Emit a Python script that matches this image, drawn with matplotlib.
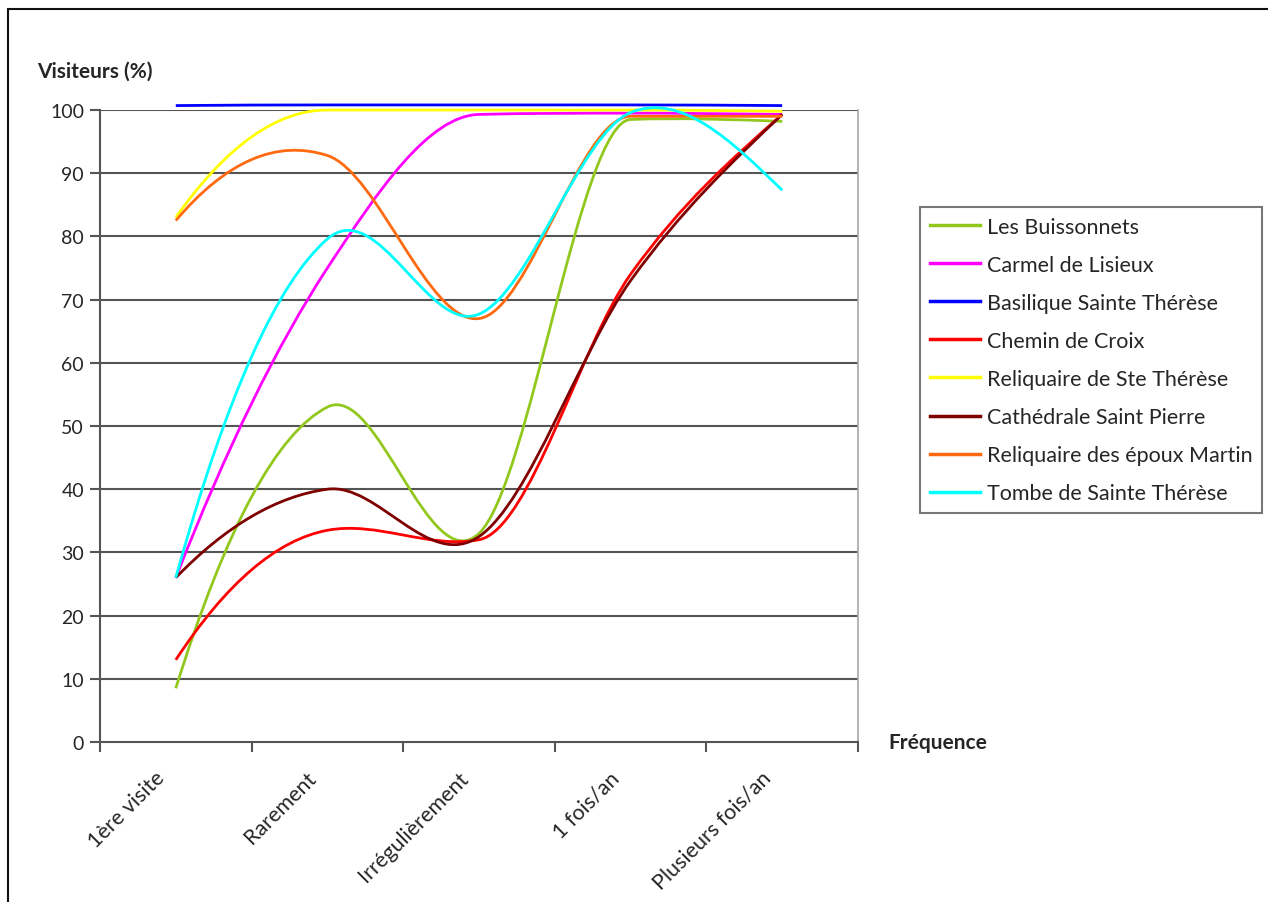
import numpy as np
import matplotlib
matplotlib.use("Agg")
import matplotlib.pyplot as plt
from matplotlib.path import Path
from matplotlib.patches import PathPatch, Rectangle
from matplotlib.lines import Line2D
from matplotlib.transforms import ScaledTranslation

plt.rcParams['font.family'] = ['Lato', 'DejaVu Sans']

categories = ["1ère visite", "Rarement", "Irrégulièrement", "1 fois/an", "Plusieurs fois/an"]

series_names = ["Les Buissonnets", "Carmel de Lisieux", "Basilique Sainte Thérèse",
                "Chemin de Croix", "Reliquaire de Ste Thérèse", "Cathédrale Saint Pierre",
                "Reliquaire des époux Martin", "Tombe de Sainte Thérèse"]

les_buissonnets = [8.5, 53.0, 33.0, 98.5, 98.2]
carmel = [26.0, 75.0, 99.3, 99.5, 99.3]
basilique = [100.7, 100.8, 100.8, 100.8, 100.7]
chemin_croix = [13.0, 33.5, 32.0, 74.0, 99.3]
reliquaire_ste = [83.0, 100.0, 100.0, 100.0, 99.8]
cathedrale = [26.0, 40.0, 32.5, 73.0, 99.3]
reliquaire_martin = [82.5, 92.8, 67.0, 99.0, 99.0]
tombe = [26.0, 79.6, 67.7, 99.6, 87.3]

series_values = [les_buissonnets, carmel, basilique, chemin_croix,
                 reliquaire_ste, cathedrale, reliquaire_martin, tombe]
series_colors = ["#92C81E", "#FF00FF", "#0000FF", "#FF0000",
                 "#FFFF00", "#7F0000", "#FF6A10", "#00FFFF"]

yticks = [0, 10, 20, 30, 40, 50, 60, 70, 80, 90, 100]


def smooth_path(y):
    """Excel-like smoothed line: cubic Bezier segments with limited tangents."""
    y = np.asarray(y, float)
    n = len(y)
    x = np.arange(n, dtype=float)
    d = np.diff(y)
    m = np.zeros(n)
    for i in range(1, n - 1):
        m[i] = (y[i + 1] - y[i - 1]) / 2.0
        lim = 3.0 * min(abs(d[i - 1]), abs(d[i]))
        if abs(m[i]) > lim:
            m[i] = np.sign(m[i]) * lim
    m[0] = 2 * d[0] - m[1]
    m[-1] = (3 * d[-1] - m[-2]) / 2.0
    verts = [(x[0], y[0])]
    codes = [Path.MOVETO]
    for i in range(n - 1):
        verts += [(x[i] + 1 / 3, y[i] + m[i] / 3),
                  (x[i + 1] - 1 / 3, y[i + 1] - m[i + 1] / 3),
                  (x[i + 1], y[i + 1])]
        codes += [Path.CURVE4] * 3
    return Path(verts, codes)


W, H = 1268, 903
fig = plt.figure(figsize=(W / 100, H / 100), dpi=100)
ax = fig.add_axes([100 / W, 1 - 743 / H, (858 - 100) / W, (743 - 111) / H])

grid_col = "#555555"
txt_col = "#262626"
ax.set_xlim(-0.5, len(categories) - 0.5)
ax.set_ylim(0, 100)
for v in yticks[1:]:
    ax.axhline(v, color=grid_col, lw=1.5, zorder=1)

for vals, col in zip(series_values, series_colors):
    patch = PathPatch(smooth_path(vals), facecolor="none", edgecolor=col,
                      lw=2.0, clip_on=False, zorder=3, capstyle="butt")
    ax.add_patch(patch)

ax.set_yticks(yticks)
ax.set_yticklabels([str(v) for v in yticks], fontsize=14, color=txt_col)
ax.tick_params(axis="y", length=7, width=1.5, color=grid_col, pad=4.5, direction="out")

ax.set_xticks(np.arange(-0.5, len(categories), 1.0))
ax.set_xticklabels([])
ax.tick_params(axis="x", which="major", length=7, width=1.5, color=grid_col, direction="out")
ax.set_xticks(np.arange(len(categories)), minor=True)
ax.set_xticklabels(categories, minor=True, rotation=45, ha="right", va="top",
                   rotation_mode="anchor", fontsize=15.5, color=txt_col)
ax.tick_params(axis="x", which="minor", length=0, pad=14)
offset = ScaledTranslation(-21 / 100, -6 / 100, fig.dpi_scale_trans)
for lbl in ax.get_xticklabels(minor=True):
    lbl.set_transform(lbl.get_transform() + offset)

ax.spines["left"].set_color(grid_col)
ax.spines["left"].set_linewidth(1.5)
ax.spines["bottom"].set_color(grid_col)
ax.spines["bottom"].set_linewidth(1.5)
ax.spines["right"].set_color("#a6a6a6")
ax.spines["right"].set_linewidth(1.2)
ax.spines["top"].set_visible(False)

fig.text(37 / W, 1 - 72 / H, "Visiteurs (%)", fontsize=15, fontweight="bold",
         color=txt_col, ha="left", va="center")
fig.text(888 / W, 1 - 743 / H, "Fréquence", fontsize=15, fontweight="bold",
         color=txt_col, ha="left", va="center")

handles = [Line2D([], [], color=c, lw=2.5) for c in series_colors]
leg = fig.legend(handles, series_names, loc="upper left",
                 bbox_to_anchor=(920 / W, 1 - 208 / H), fontsize=15.5,
                 frameon=True, fancybox=False, edgecolor="#555555",
                 handlelength=2.35, handletextpad=0.3, labelspacing=0.84,
                 borderpad=0.45, borderaxespad=0.0)
leg.get_frame().set_linewidth(1.5)
for t in leg.get_texts():
    t.set_color(txt_col)

fig.patches.append(Rectangle((8 / W, -0.05), 1.2, 1 - 10 / H + 0.05,
                             transform=fig.transFigure, fill=False,
                             edgecolor="#111111", lw=1.5))

fig.savefig("out.png", dpi=100)
